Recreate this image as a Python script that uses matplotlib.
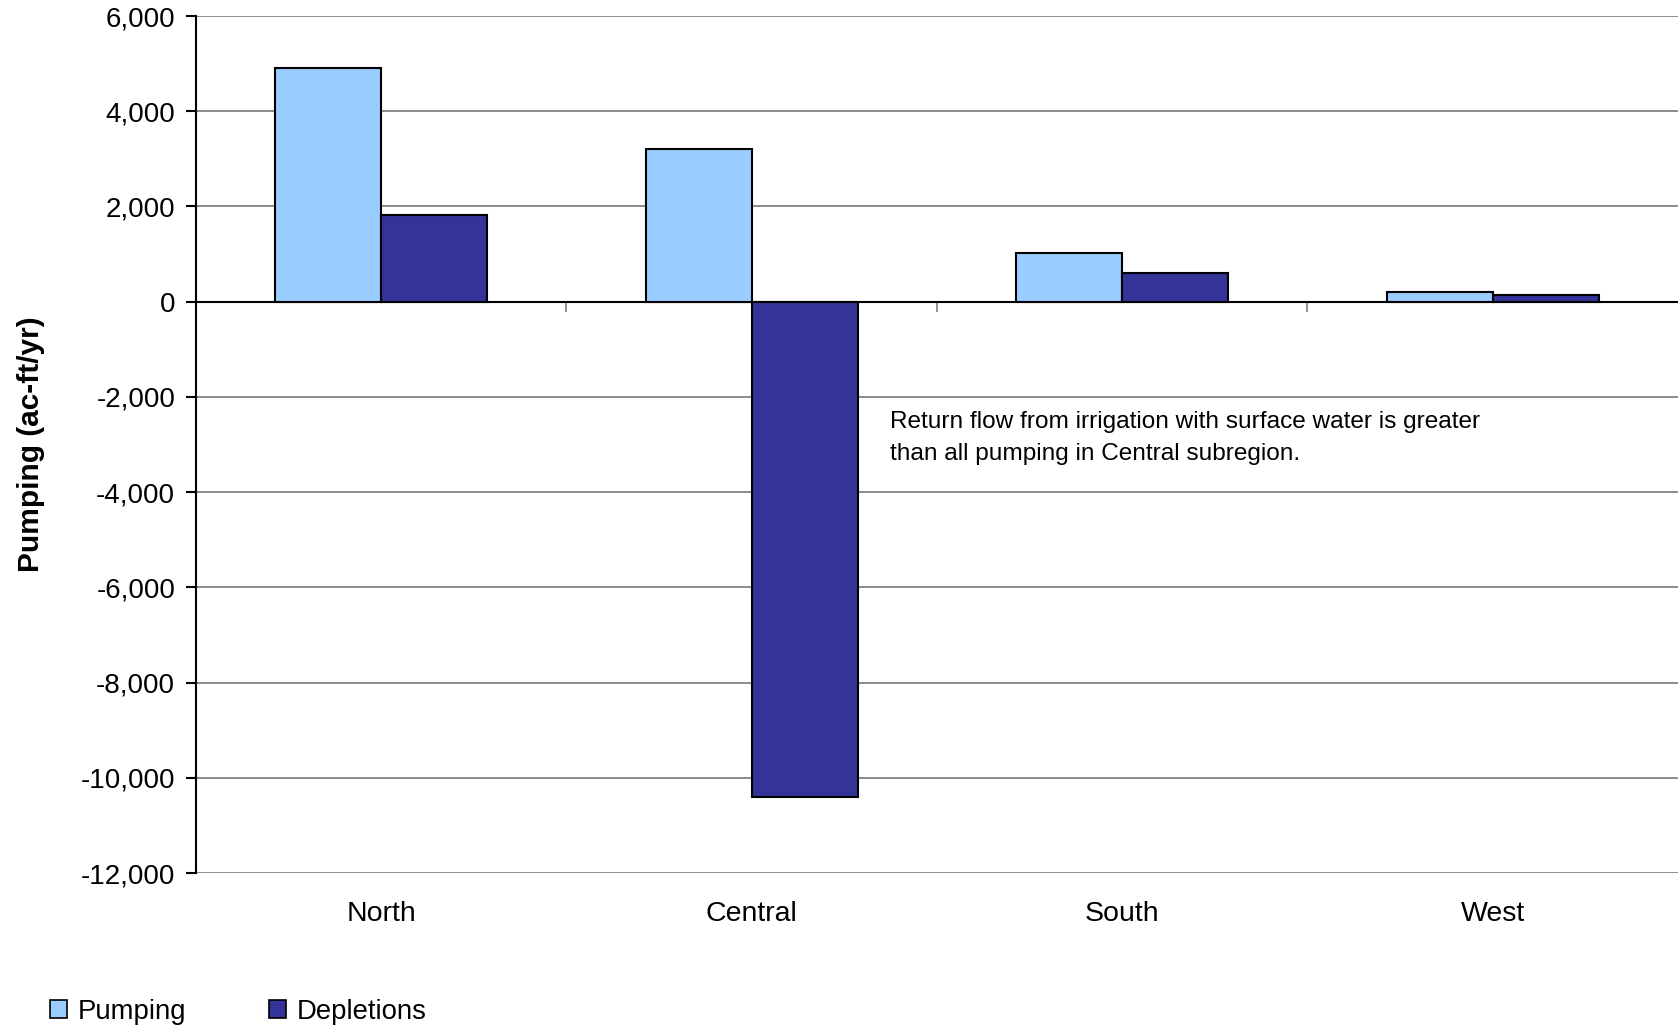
import matplotlib.pyplot as plt
import numpy as np
from matplotlib.patches import Patch
from matplotlib.ticker import FuncFormatter

plt.rcParams['font.family'] = ['Liberation Sans', 'DejaVu Sans']

regions = ["North", "Central", "South", "West"]
pumping = [4900, 3200, 1030, 200]
depletions = [1820, -10400, 600, 130]
series_names = ["Pumping", "Depletions"]
colors = ["#99CCFF", "#333399"]

fig = plt.figure(figsize=(16.78, 10.26), dpi=100)
ax = fig.add_axes([0.1168, 0.1491, 0.8832, 0.8353])

x = np.arange(len(regions))
w = 0.2857
ax.bar(x - w / 2, pumping, w, color=colors[0], edgecolor="black", linewidth=1.5, zorder=3)
ax.bar(x + w / 2, depletions, w, color=colors[1], edgecolor="black", linewidth=1.5, zorder=3)

ymin, ymax = -12000, 6000
ax.set_ylim(ymin, ymax)
ax.set_xlim(-0.5, len(regions) - 0.5)
ax.set_yticks(np.arange(ymin, ymax + 1, 2000))
ax.yaxis.set_major_formatter(FuncFormatter(lambda v, p: "{:,.0f}".format(v)))
ax.grid(axis="y", color="#787878", linewidth=1.2, zorder=0)
ax.axhline(0, color="black", linewidth=1.5, zorder=2)

for s in ["top", "right", "bottom"]:
    ax.spines[s].set_visible(False)
ax.spines["left"].set_linewidth(1.5)
ax.tick_params(axis="y", direction="out", length=7, width=1.5, labelsize=20, pad=8)

ax.set_xticks(x, regions)
ax.tick_params(axis="x", length=0, labelsize=20.5, pad=20)

# category dividers on the zero line
sec = ax.secondary_xaxis((0 - ymin) / (ymax - ymin))
for s in sec.spines.values():
    s.set_visible(False)
sec.set_xticks(x[:-1] + 0.5)
sec.set_xticklabels([])
sec.tick_params(axis="x", direction="in", length=7, width=1.2, color="#808080",
                labeltop=False, labelbottom=False)

ax.set_ylabel("Pumping (ac-ft/yr)", fontsize=21.5, fontweight="bold", labelpad=26)

ax.text(1.372, -2300, "Return flow from irrigation with surface water is greater\n"
        "than all pumping in Central subregion.", fontsize=17.6, va="top", ha="left",
        linespacing=1.55)

handles = [Patch(facecolor=c, edgecolor="black", linewidth=1.2) for c in colors]
fig.legend(handles, series_names, loc="center left", bbox_to_anchor=(0.023, 0.014),
           borderaxespad=0, ncol=2, frameon=False, fontsize=19.8, handlelength=0.62,
           handleheight=0.62, handletextpad=0.4, columnspacing=3.0)

fig.savefig("out.png", dpi=100)
